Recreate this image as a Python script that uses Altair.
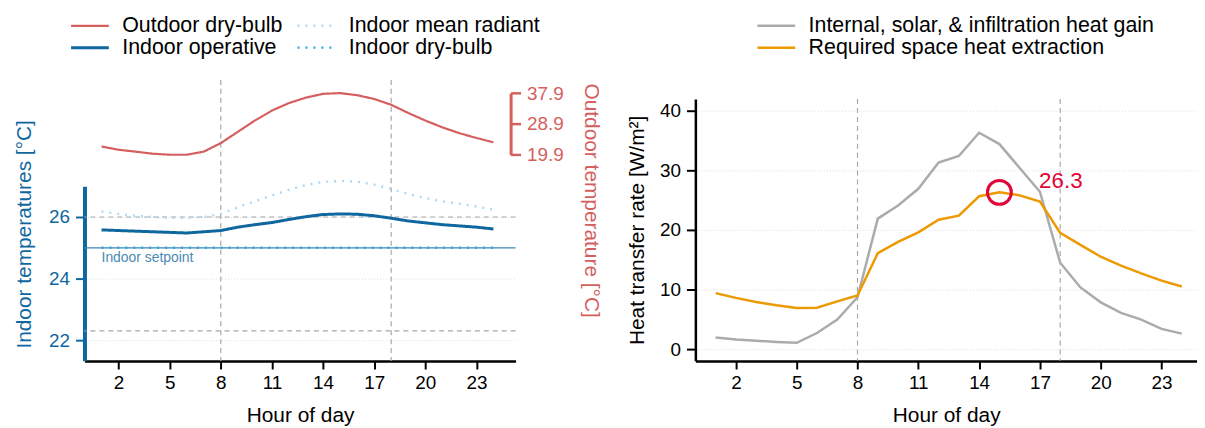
import altair as alt
import pandas as pd

FONT = "Liberation Sans"
RED = "#D55E5E"
BLUE = "#0F67A0"
LIGHT = "#A8DAF7"
SKY = "#2AA8E6"
SETPT = "#3B86B5"
GRAY_DASH = "#A8A8A8"
GRID = "#DDDDDD"
CRIMSON = "#E2063A"

# ---------------- data ----------------
hours = [1, 2, 3, 4, 5, 6, 7, 8, 9, 10, 11, 12, 13, 14, 15, 16, 17, 18, 19, 20, 21, 22, 23, 24]

outdoor_drybulb = [22.3, 21.35, 20.8, 20.2, 19.9, 19.9, 20.8, 23.3, 26.6, 29.9, 32.8, 35.0,
                   36.6, 37.7, 37.9, 37.3, 36.2, 34.5, 32.1, 29.9, 27.9, 26.2, 24.8, 23.5]
indoor_operative = [25.58, 25.56, 25.54, 25.52, 25.50, 25.48, 25.52, 25.56, 25.67, 25.75, 25.82, 25.92,
                    26.01, 26.08, 26.10, 26.09, 26.04, 25.96, 25.87, 25.81, 25.75, 25.71, 25.67, 25.61]
indoor_mean_radiant = [26.18, 26.10, 26.04, 26.00, 25.97, 25.97, 26.00, 26.10, 26.32, 26.51, 26.70, 26.88,
                       27.04, 27.14, 27.17, 27.15, 27.05, 26.91, 26.75, 26.62, 26.51, 26.43, 26.34, 26.24]
indoor_drybulb = [25.0, 25.0, 25.0, 25.0, 25.0, 25.0, 25.0, 25.0, 25.0, 25.0, 25.0, 25.0,
                  25.0, 25.0, 25.0, 25.0, 25.0, 25.0, 25.0, 25.0, 25.0, 25.0, 25.0, 25.0]

heat_gain = [1.95, 1.6, 1.4, 1.2, 1.05, 2.7, 4.95, 8.7, 21.9, 24.1, 26.9, 31.3,
             32.4, 36.3, 34.4, 30.4, 26.4, 14.5, 10.35, 7.85, 6.07, 4.95, 3.4, 2.6]
heat_extraction = [9.4, 8.6, 7.9, 7.35, 6.9, 6.95, 8.0, 9.0, 16.1, 18.0, 19.6, 21.7,
                   22.4, 25.65, 26.3, 25.8, 24.76, 19.5, 17.5, 15.5, 14.0, 12.7, 11.5, 10.5]

occupied_bounds = [8, 18]
comfort_band = [22.3, 26.0]
setpoint = [25.0]
setpoint_label = ["Indoor setpoint"]
peak_hour = [15]
peak_value = [26.3]
peak_label = ["26.3"]

hour_ticks = [2, 5, 8, 11, 14, 17, 20, 23]
indoor_ticks = [22, 24, 26]
outdoor_ticks = [19.9, 28.9, 37.9]
heat_ticks = [0, 10, 20, 30, 40]

# legend order (filled column by column, 2 columns)
series_left = ["Outdoor dry-bulb", "Indoor operative", "Indoor mean radiant", "Indoor dry-bulb"]
colors_left = [RED, BLUE, LIGHT, SKY]
dashes_left = [[1, 0], [1, 0], [2, 6], [2, 6]]
widths_left = [2.2, 3.0, 2.4, 2.4]

series_right = ["Internal, solar, & infiltration heat gain", "Required space heat extraction"]
colors_right = ["#ABABAB", "#EC9A00"]

# ---------------- tables ----------------
outdoor_df = pd.DataFrame({"hour": hours, "temp": outdoor_drybulb, "series": "Outdoor dry-bulb"})
indoor_df = pd.concat([
    pd.DataFrame({"hour": hours, "temp": indoor_mean_radiant, "series": "Indoor mean radiant"}),
    pd.DataFrame({"hour": hours, "temp": indoor_operative, "series": "Indoor operative"}),
    pd.DataFrame({"hour": hours, "temp": indoor_drybulb, "series": "Indoor dry-bulb"}),
])
heat_df = pd.concat([
    pd.DataFrame({"hour": hours, "q": heat_gain, "series": series_right[0]}),
    pd.DataFrame({"hour": hours, "q": heat_extraction, "series": series_right[1]}),
])

# ---------------- scales / axes ----------------
LW, LH = 434, 283
RW, RH = 505, 283

heat_domain = [-1.95, 41.95]

x_left_scale = alt.Scale(domain=[0, 25.3], nice=False, zero=False)
x_right_scale = alt.Scale(domain=[0, 24.75], nice=False, zero=False)
y_in_scale = alt.Scale(domain=[21.33, 27.0], range=[282.7, 107], nice=False, zero=False)
y_out_scale = alt.Scale(domain=[19.9, 37.9], range=[75.3, 13.3], nice=False, zero=False)
y_heat_scale = alt.Scale(domain=heat_domain, range=[282.7, 19.3], nice=False, zero=False)

TICK_FS = 19
TITLE_FS = 21

X_AXIS = alt.Axis(values=hour_ticks, title="Hour of day", titleFont=FONT, titleFontSize=TITLE_FS,
                  titleFontWeight="normal", titleColor="black", titlePadding=12,
                  labelFont=FONT, labelFontSize=TICK_FS, labelColor="black", labelPadding=5,
                  tickColor="black", tickWidth=2, tickSize=8, domainColor="black",
                  domainWidth=2.5, grid=False)

Y_IN_AXIS = alt.Axis(values=indoor_ticks, title="Indoor temperatures [°C]", titleFont=FONT,
                     titleFontSize=TITLE_FS, titleFontWeight="normal", titleColor=BLUE, titleY=155,
                     titlePadding=14,
                     labelFont=FONT, labelFontSize=TICK_FS, labelColor=BLUE, labelPadding=6,
                     tickColor=BLUE, tickWidth=2, tickSize=9, domainColor=BLUE, domainWidth=4,
                     grid=True, gridColor=GRID, gridDash=[1, 2], gridWidth=1)

Y_OUT_AXIS = alt.Axis(orient="right", values=outdoor_ticks, format=".1f",
                      title="Outdoor temperature [°C]", titleFont=FONT, titleFontSize=TITLE_FS,
                      titleFontWeight="normal", titleColor=RED, titleAngle=90, titleY=121,
                      titlePadding=17,
                      labelFont=FONT, labelFontSize=TICK_FS, labelColor=RED, labelPadding=6,
                      tickColor=RED, tickWidth=2.5, tickSize=10, domainColor=RED, domainWidth=3,
                      offset=-5, grid=False)

Y_HEAT_AXIS = alt.Axis(values=heat_ticks, title="Heat transfer rate [W/m²]", titleFont=FONT,
                       titleFontSize=TITLE_FS, titleFontWeight="normal", titleColor="black",
                       titlePadding=12,
                       labelFont=FONT, labelFontSize=TICK_FS, labelColor="black", labelPadding=6,
                       tickColor="black", tickWidth=2, tickSize=9, domainColor="black",
                       domainWidth=2.5, grid=True, gridColor=GRID, gridDash=[1, 2], gridWidth=1)

LEG_SYMBOL = "M-1.9,0H1.9"


def legend(x, y, cols, **kw):
    return alt.Legend(title=None, orient="none", legendX=x, legendY=y, columns=cols,
                      direction="vertical", symbolType=LEG_SYMBOL, symbolSize=400,
                      labelFont=FONT, labelFontSize=21.5, labelColor="black", labelOffset=21,
                      columnPadding=9, rowPadding=-5, labelLimit=600, **kw)


leg_left = legend(-6, -66, 2)
leg_right = legend(70, -66, 1, symbolStrokeWidth=2.5)

color_left = alt.Color("series:N", scale=alt.Scale(domain=series_left, range=colors_left), legend=leg_left)
dash_left = alt.StrokeDash("series:N", scale=alt.Scale(domain=series_left, range=dashes_left), legend=leg_left)
width_left = alt.StrokeWidth("series:N", scale=alt.Scale(type="ordinal", domain=series_left, range=widths_left), legend=leg_left)

XL = alt.X("hour:Q", scale=x_left_scale, axis=X_AXIS)
YIN = alt.Y("temp:Q", scale=y_in_scale, axis=Y_IN_AXIS)
XR = alt.X("hour:Q", scale=x_right_scale, axis=X_AXIS)
YH = alt.Y("q:Q", scale=y_heat_scale, axis=Y_HEAT_AXIS)

# ---------------- left panel ----------------
vlines_left = alt.Chart(pd.DataFrame({"hour": occupied_bounds})).mark_rule(
    color=GRAY_DASH, strokeDash=[5, 4], strokeWidth=1.2
).encode(x=XL)

band = alt.Chart(pd.DataFrame({"temp": comfort_band})).mark_rule(
    color=GRAY_DASH, strokeDash=[5, 4], strokeWidth=1.2
).encode(y=YIN)

setpt = alt.Chart(pd.DataFrame({"temp": setpoint})).mark_rule(
    color=SETPT, strokeWidth=1.3
).encode(y=YIN)

setpt_text = alt.Chart(pd.DataFrame({"hour": hours[:1], "temp": setpoint, "label": setpoint_label})).mark_text(
    align="left", baseline="top", dy=3, font=FONT, fontSize=14, color="#4A89B3"
).encode(x=XL, y=YIN, text="label:N")

indoor_lines = alt.Chart(indoor_df).mark_line().encode(
    x=XL, y=YIN,
    color=color_left, strokeDash=dash_left, strokeWidth=width_left,
)

indoor_group = alt.layer(vlines_left, band, setpt, setpt_text, indoor_lines)

outdoor_line = alt.Chart(outdoor_df).mark_line().encode(
    x=XL,
    y=alt.Y("temp:Q", scale=y_out_scale, axis=Y_OUT_AXIS),
    color=color_left, strokeDash=dash_left, strokeWidth=width_left,
)

left = alt.layer(indoor_group, outdoor_line).resolve_scale(y="independent").properties(width=LW, height=LH)

# ---------------- right panel ----------------
vlines_right = alt.Chart(pd.DataFrame({
    "hour": occupied_bounds,
    "q": [heat_domain[1], heat_domain[1]],
    "q0": [heat_domain[0], heat_domain[0]],
})).mark_rule(
    color=GRAY_DASH, strokeDash=[5, 4], strokeWidth=1.2
).encode(x=XR, y=YH, y2="q0:Q")

heat_lines = alt.Chart(heat_df).mark_line(strokeWidth=2.5).encode(
    x=XR, y=YH,
    color=alt.Color("series:N", scale=alt.Scale(domain=series_right, range=colors_right), legend=leg_right),
)

peak_df = pd.DataFrame({"hour": peak_hour, "q": peak_value, "label": peak_label})
peak_circle = alt.Chart(peak_df).mark_point(
    shape="circle", size=580, filled=False, strokeWidth=3, color=CRIMSON, opacity=1
).encode(x=XR, y=YH)
peak_text = alt.Chart(peak_df).mark_text(
    align="left", baseline="middle", dx=40, dy=-11, font=FONT, fontSize=22.5, color=CRIMSON
).encode(x=XR, y=YH, text="label:N")

right = alt.layer(vlines_right, heat_lines, peak_circle, peak_text).properties(width=RW, height=RH)

chart = alt.hconcat(left, right, spacing=25).resolve_scale(
    color="independent", strokeDash="independent", strokeWidth="independent"
).resolve_legend(
    color="independent", strokeDash="independent", strokeWidth="independent"
).properties(
    padding={"left": 5, "top": 5, "right": 0, "bottom": 0},
    background="white",
).configure(font=FONT).configure_view(stroke=None)

chart.save("out.html", embed_options={"renderer": "svg", "actions": False})
